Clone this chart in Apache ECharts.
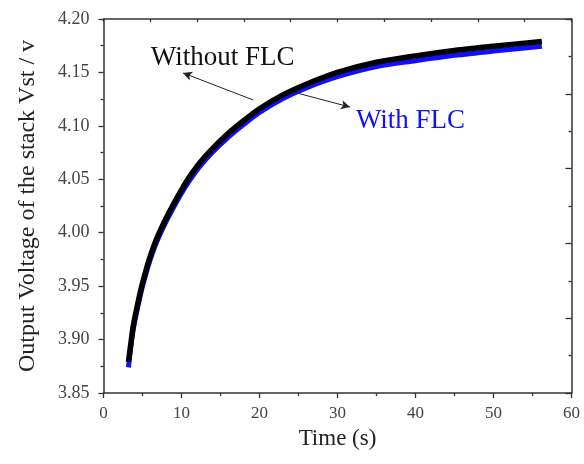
<!DOCTYPE html>
<html><head><meta charset="utf-8">
<script src="https://cdn.jsdelivr.net/npm/echarts@6/dist/echarts.min.js"></script>
<style>html,body{margin:0;padding:0;background:#fff}#c{width:584px;height:464px}</style>
</head><body><div id="c"></div>
<script>
const timeS = [3.2, 3.5, 3.8, 4.2, 4.9, 5.5, 6.0, 6.8, 8, 9, 10, 11, 12.4, 14, 16, 18, 20, 23, 26, 30, 35, 40, 45, 50, 56.2];
const withoutFLC = [3.879, 3.896, 3.912, 3.927, 3.950, 3.966, 3.978, 3.994, 4.013, 4.027, 4.040, 4.052, 4.066, 4.079, 4.093, 4.105, 4.116, 4.129, 4.139, 4.150, 4.1595, 4.1655, 4.1705, 4.1745, 4.179];
const withFLC = [3.874, 3.893, 3.909, 3.924, 3.947, 3.963, 3.975, 3.991, 4.010, 4.024, 4.037, 4.0485, 4.0625, 4.0755, 4.0895, 4.1015, 4.1125, 4.1255, 4.1355, 4.146, 4.1555, 4.161, 4.166, 4.170, 4.1745];
const xTicks = [0, 10, 20, 30, 40, 50, 60];
const yTicks = [3.85, 3.90, 3.95, 4.00, 4.05, 4.10, 4.15, 4.20];

const font = 'Liberation Serif';
const axisCol = '#333';
const chart = echarts.init(document.getElementById('c'), null, {renderer: 'canvas'});
const pair = (xs, ys) => xs.map((x, i) => [x, ys[i]]);

chart.setOption({
  animation: false,
  grid: {left: 103.5, right: 12.5, top: 19, bottom: 71},
  xAxis: [{
    type: 'value', min: xTicks[0], max: xTicks[xTicks.length - 1], interval: 10,
    name: 'Time (s)', nameLocation: 'middle', nameGap: 34,
    nameTextStyle: {fontFamily: font, fontSize: 23, color: '#222'},
    axisLine: {show: true, lineStyle: {color: axisCol, width: 1.5}},
    axisTick: {show: true, inside: false, length: 5, lineStyle: {color: axisCol, width: 1.3}},
    minorTick: {show: true, splitNumber: 2, length: 3, lineStyle: {color: axisCol, width: 1.3}},
    axisLabel: {fontFamily: font, fontSize: 17, color: '#444', margin: 12},
    splitLine: {show: false}
  }, {
    type: 'value', position: 'top', min: 0, max: 60, interval: 6,
    axisLine: {show: true, onZero: false, lineStyle: {color: axisCol, width: 1.5}},
    axisTick: {show: true, inside: true, length: 3, lineStyle: {color: axisCol, width: 1.3}},
    axisLabel: {show: false}, splitLine: {show: false}
  }],
  yAxis: [{
    type: 'value', min: yTicks[0], max: yTicks[yTicks.length - 1], interval: 0.05,
    name: 'Output Voltage of the stack Vst / v', nameLocation: 'middle', nameGap: 64,
    nameTextStyle: {fontFamily: font, fontSize: 24, color: '#222'},
    axisLine: {show: true, lineStyle: {color: axisCol, width: 1.5}},
    axisTick: {show: true, inside: false, length: 5, lineStyle: {color: axisCol, width: 1.3}},
    minorTick: {show: true, splitNumber: 2, length: 3, lineStyle: {color: axisCol, width: 1.3}},
    axisLabel: {fontFamily: font, fontSize: 18, color: '#444', margin: 14, formatter: v => v.toFixed(2)},
    splitLine: {show: false}
  }, {
    type: 'value', position: 'right', min: 3.85, max: 4.20, interval: 0.07,
    axisLine: {show: true, onZero: false, lineStyle: {color: axisCol, width: 1.5}},
    axisTick: {show: true, inside: true, length: 6, lineStyle: {color: axisCol, width: 1.3}},
    minorTick: {show: true, splitNumber: 2, length: 3, lineStyle: {color: axisCol, width: 1.3}},
    axisLabel: {show: false}, splitLine: {show: false}
  }],
  series: [{
    name: 'With FLC', type: 'line', data: pair(timeS, withFLC), smooth: 0.3,
    showSymbol: false, lineStyle: {color: '#1010ff', width: 5}, z: 2,
    markPoint: {
      symbol: 'rect', symbolSize: 1, itemStyle: {color: 'transparent'},
      label: {show: true, position: 'right', distance: 0, fontFamily: font, fontSize: 27, color: '#1010ff', formatter: 'With FLC'},
      data: [{coord: [32.3, 4.1045]}]
    },
    markLine: {
      silent: true, symbol: ['none', 'arrow'], symbolSize: [7, 9],
      lineStyle: {color: '#222', width: 1, type: 'solid'}, label: {show: false},
      data: [[{coord: [24.3, 4.1317]}, {coord: [31.6, 4.1176]}]]
    }
  }, {
    name: 'Without FLC', type: 'line', data: pair(timeS, withoutFLC), smooth: 0.3,
    showSymbol: false, lineStyle: {color: '#000', width: 5.5}, z: 3,
    markPoint: {
      symbol: 'rect', symbolSize: 1, itemStyle: {color: 'transparent'},
      label: {show: true, position: 'right', distance: 0, fontFamily: font, fontSize: 27, color: '#111', formatter: 'Without FLC'},
      data: [{coord: [6.0, 4.1635]}]
    },
    markLine: {
      silent: true, symbol: ['none', 'arrow'], symbolSize: [7, 9],
      lineStyle: {color: '#222', width: 1, type: 'solid'}, label: {show: false},
      data: [[{coord: [19.2, 4.1242]}, {coord: [10.2, 4.1495]}]]
    }
  }]
});
</script></body></html>
